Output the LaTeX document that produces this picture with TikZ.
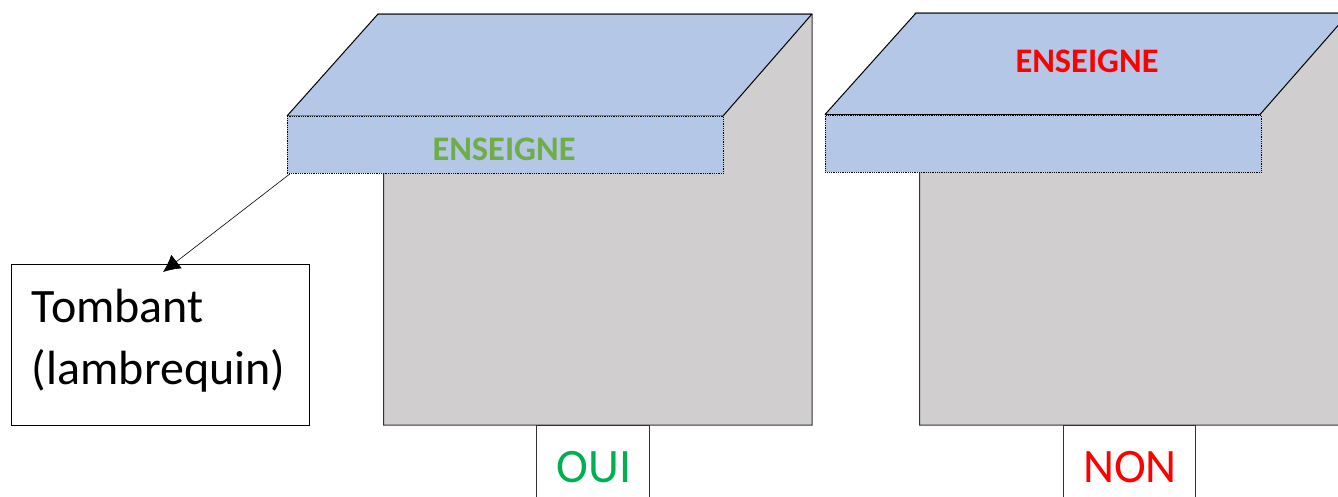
\documentclass[tikz,border=0pt]{standalone}
\usepackage{fontspec}
\setmainfont{Carlito}
\usetikzlibrary{arrows.meta}
\definecolor{roofblue}{HTML}{B4C7E7}
\definecolor{wallgray}{HTML}{D0CECE}
\definecolor{oklabel}{HTML}{70AD47}
\definecolor{oui}{HTML}{00B050}
\tikzset{
  wall/.style={draw=black!80,fill=wallgray,line width=1pt},
  roof/.style={draw=black,fill=roofblue,line width=1pt,line join=bevel},
  lambrq/.style={draw=black,fill=roofblue,line width=0.8pt,densely dotted,anchor=north west,inner sep=0pt},
  sign/.style={font=\fontsize{34.4}{40}\selectfont\bfseries},
  answer/.style={draw=black!80,fill=white,line width=1pt,font=\fontsize{48}{52}\selectfont,minimum height=84pt,inner sep=0pt,anchor=north},
  pointer/.style={draw=black,line width=0.6pt,-{Latex[length=17pt,width=17pt]}},
}
\begin{document}
\begin{tikzpicture}[x=1pt,y=-1pt]
\useasboundingbox (0,0) rectangle (1338,496);
\clip (0,0) rectangle (1338,496);
% left wall and roof
\draw[wall] (378,14) -- (812,14) -- (812,425) -- (383.5,425) -- (383.5,173) -- cycle;
\draw[roof] (378,14) -- (812,14) -- (723,116) -- (287,116) -- cycle;
\node[lambrq,minimum width=436pt,minimum height=57pt] (frontL) at (287,116) {};
\node[sign,text=oklabel] (signL) at (504,149) {ENSEIGNE};
% right wall and roof
\draw[wall] (915,13) -- (1360,13) -- (1360,425) -- (919.5,425) -- (919.5,171) -- cycle;
\draw[roof] (916,13) -- (1349,13) -- (1260,114.5) -- (825,114.5) -- cycle;
\node[lambrq,minimum width=436pt,minimum height=56.5pt] (frontR) at (825,115) {};
\node[sign,text=red] (signR) at (1087,61) {ENSEIGNE};
% answers
\node[answer,text=oui,minimum width=113pt] (yes) at (592.5,425) {\kern3pt OUI};
\node[answer,text=red,minimum width=132pt] (no) at (1129.5,425) {\kern1pt NON};
% tombant
\node[draw=black,fill=white,line width=0.9pt,anchor=north west,inner xsep=20.5pt,inner ysep=0pt,
  minimum height=161pt,text width=257pt,align=left,font=\fontsize{48}{62}\selectfont] (tomb) at (11,264) {Tombant\\(lambrequin)\rule[-17pt]{0pt}{1pt}};
\coordinate (from) at (frontL.south west);
\coordinate (tip) at (163,272);
\draw[pointer] ([xshift=3pt]from) -- (tip);
\end{tikzpicture}
\end{document}
